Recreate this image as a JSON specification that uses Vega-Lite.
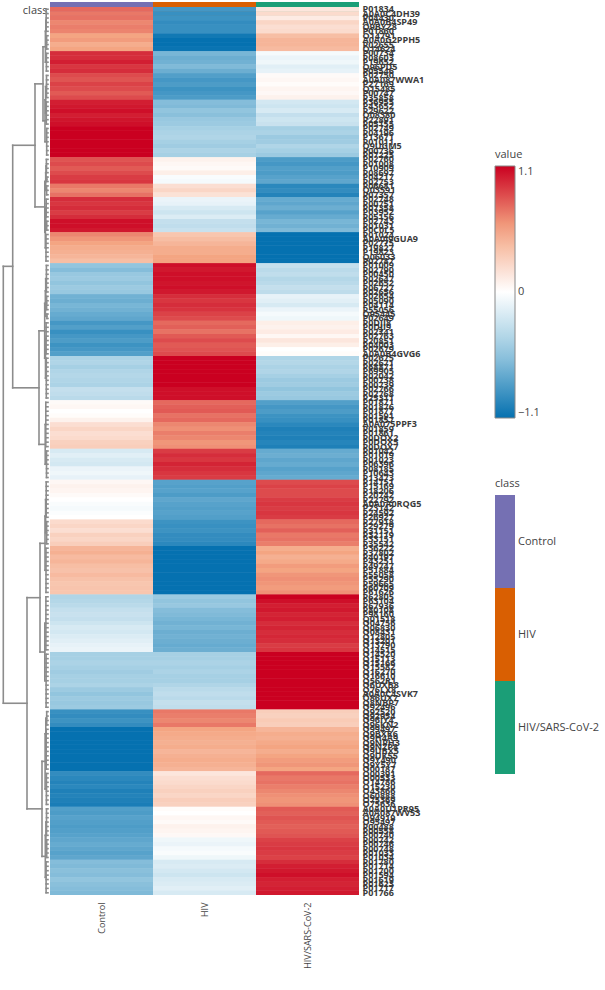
{
  "$schema": "https://vega.github.io/schema/vega-lite/v6.json",
  "padding": {"left": 0, "top": 2, "right": 0, "bottom": 0},
  "config": {
    "view": {"stroke": null},
    "font": "Open Sans"
  },
  "datasets": {
    "groups": [
      {"k": "c", "col": "Control", "track": "class"},
      {"k": "h", "col": "HIV", "track": "class"},
      {"k": "s", "col": "HIV/SARS-CoV-2", "track": "class"}
    ],
    "blocks": [
      {"b": 1, "hb": 1.8, "a": 0, "e": 5}, {"b": 2, "hb": 1.4, "a": 6, "e": 9},
      {"b": 3, "hb": 1.6, "a": 10, "e": 14}, {"b": 4, "hb": 1.5, "a": 15, "e": 20},
      {"b": 5, "hb": 1.7, "a": 21, "e": 26}, {"b": 6, "hb": 1.3, "a": 27, "e": 33},
      {"b": 7, "hb": 1.6, "a": 34, "e": 37}, {"b": 8, "hb": 1.2, "a": 38, "e": 39},
      {"b": 9, "hb": 1.4, "a": 40, "e": 42}, {"b": 10, "hb": 1.8, "a": 43, "e": 47},
      {"b": 11, "hb": 1.3, "a": 48, "e": 50}, {"b": 12, "hb": 2.0, "a": 51, "e": 57},
      {"b": 13, "hb": 1.6, "a": 58, "e": 64}, {"b": 14, "hb": 1.4, "a": 65, "e": 68},
      {"b": 15, "hb": 1.1, "a": 69, "e": 70}, {"b": 16, "hb": 1.9, "a": 71, "e": 78},
      {"b": 17, "hb": 1.7, "a": 79, "e": 88}, {"b": 18, "hb": 2.2, "a": 89, "e": 99},
      {"b": 19, "hb": 1.5, "a": 100, "e": 106}, {"b": 20, "hb": 1.8, "a": 107, "e": 115},
      {"b": 21, "hb": 1.4, "a": 116, "e": 121}, {"b": 22, "hb": 2.0, "a": 122, "e": 132},
      {"b": 23, "hb": 2.1, "a": 133, "e": 145}, {"b": 24, "hb": 1.9, "a": 146, "e": 158},
      {"b": 25, "hb": 1.3, "a": 159, "e": 162}, {"b": 26, "hb": 1.8, "a": 163, "e": 172},
      {"b": 27, "hb": 1.6, "a": 173, "e": 180}, {"b": 28, "hb": 1.5, "a": 181, "e": 187},
      {"b": 29, "hb": 1.3, "a": 188, "e": 192}, {"b": 30, "hb": 1.9, "a": 193, "e": 200}
    ],
    "links": [
      {"h": 2.2, "h2": 2.2, "r": 2.5, "r2": 7.5}, {"h": 1.8, "h2": 2.2, "r": 2.5, "r2": 2.5}, {"h": 1.4, "h2": 2.2, "r": 7.5, "r2": 7.5},
      {"h": 2.6, "h2": 2.6, "r": 5, "r2": 12}, {"h": 2.2, "h2": 2.6, "r": 5, "r2": 5}, {"h": 1.6, "h2": 2.6, "r": 12, "r2": 12},
      {"h": 2.4, "h2": 2.4, "r": 17.5, "r2": 23.5}, {"h": 1.5, "h2": 2.4, "r": 17.5, "r2": 17.5}, {"h": 1.7, "h2": 2.4, "r": 23.5, "r2": 23.5},
      {"h": 3, "h2": 3, "r": 20.5, "r2": 30}, {"h": 2.4, "h2": 3, "r": 20.5, "r2": 20.5}, {"h": 1.3, "h2": 3, "r": 30, "r2": 30},
      {"h": 5, "h2": 5, "r": 8.5, "r2": 25.25}, {"h": 2.6, "h2": 5, "r": 8.5, "r2": 8.5}, {"h": 3, "h2": 5, "r": 25.25, "r2": 25.25},
      {"h": 2, "h2": 2, "r": 35.5, "r2": 38.5}, {"h": 1.6, "h2": 2, "r": 35.5, "r2": 35.5}, {"h": 1.2, "h2": 2, "r": 38.5, "r2": 38.5},
      {"h": 2.3, "h2": 2.3, "r": 37, "r2": 41}, {"h": 2, "h2": 2.3, "r": 37, "r2": 37}, {"h": 1.4, "h2": 2.3, "r": 41, "r2": 41},
      {"h": 2.2, "h2": 2.2, "r": 45, "r2": 49}, {"h": 1.8, "h2": 2.2, "r": 45, "r2": 45}, {"h": 1.3, "h2": 2.2, "r": 49, "r2": 49},
      {"h": 2.7, "h2": 2.7, "r": 47, "r2": 54}, {"h": 2.2, "h2": 2.7, "r": 47, "r2": 47}, {"h": 2, "h2": 2.7, "r": 54, "r2": 54},
      {"h": 3.2, "h2": 3.2, "r": 39, "r2": 50.5}, {"h": 2.3, "h2": 3.2, "r": 39, "r2": 39}, {"h": 2.7, "h2": 3.2, "r": 50.5, "r2": 50.5},
      {"h": 13, "h2": 13, "r": 16.9, "r2": 44.75}, {"h": 5, "h2": 13, "r": 16.9, "r2": 16.9}, {"h": 3.2, "h2": 13, "r": 44.75, "r2": 44.75},
      {"h": 2.3, "h2": 2.3, "r": 61, "r2": 66.5}, {"h": 1.6, "h2": 2.3, "r": 61, "r2": 61}, {"h": 1.4, "h2": 2.3, "r": 66.5, "r2": 66.5},
      {"h": 2.6, "h2": 2.6, "r": 63.75, "r2": 69.5}, {"h": 2.3, "h2": 2.6, "r": 63.75, "r2": 63.75}, {"h": 1.1, "h2": 2.6, "r": 69.5, "r2": 69.5},
      {"h": 2.5, "h2": 2.5, "r": 74.5, "r2": 83.5}, {"h": 1.9, "h2": 2.5, "r": 74.5, "r2": 74.5}, {"h": 1.7, "h2": 2.5, "r": 83.5, "r2": 83.5},
      {"h": 3.3, "h2": 3.3, "r": 66.6, "r2": 79}, {"h": 2.6, "h2": 3.3, "r": 66.6, "r2": 66.6}, {"h": 2.5, "h2": 3.3, "r": 79, "r2": 79},
      {"h": 2.8, "h2": 2.8, "r": 94, "r2": 103}, {"h": 2.2, "h2": 2.8, "r": 94, "r2": 94}, {"h": 1.5, "h2": 2.8, "r": 103, "r2": 103},
      {"h": 9, "h2": 9, "r": 72.8, "r2": 98.5}, {"h": 3.3, "h2": 9, "r": 72.8, "r2": 72.8}, {"h": 2.8, "h2": 9, "r": 98.5, "r2": 98.5},
      {"h": 35.3, "h2": 35.3, "r": 30.8, "r2": 85.7}, {"h": 13, "h2": 35.3, "r": 30.8, "r2": 30.8}, {"h": 9, "h2": 35.3, "r": 85.7, "r2": 85.7},
      {"h": 2.4, "h2": 2.4, "r": 111, "r2": 118.5}, {"h": 1.8, "h2": 2.4, "r": 111, "r2": 111}, {"h": 1.4, "h2": 2.4, "r": 118.5, "r2": 118.5},
      {"h": 3, "h2": 3, "r": 114.75, "r2": 127}, {"h": 2.4, "h2": 3, "r": 114.75, "r2": 114.75}, {"h": 2, "h2": 3, "r": 127, "r2": 127},
      {"h": 3.2, "h2": 3.2, "r": 139, "r2": 152}, {"h": 2.1, "h2": 3.2, "r": 139, "r2": 139}, {"h": 1.9, "h2": 3.2, "r": 152, "r2": 152},
      {"h": 8, "h2": 8, "r": 120.9, "r2": 145.5}, {"h": 3, "h2": 8, "r": 120.9, "r2": 120.9}, {"h": 3.2, "h2": 8, "r": 145.5, "r2": 145.5},
      {"h": 2.2, "h2": 2.2, "r": 160.5, "r2": 167.5}, {"h": 1.3, "h2": 2.2, "r": 160.5, "r2": 160.5}, {"h": 1.8, "h2": 2.2, "r": 167.5, "r2": 167.5},
      {"h": 2.9, "h2": 2.9, "r": 164, "r2": 176.5}, {"h": 2.2, "h2": 2.9, "r": 164, "r2": 164}, {"h": 1.6, "h2": 2.9, "r": 176.5, "r2": 176.5},
      {"h": 2.1, "h2": 2.1, "r": 184, "r2": 190}, {"h": 1.5, "h2": 2.1, "r": 184, "r2": 184}, {"h": 1.3, "h2": 2.1, "r": 190, "r2": 190},
      {"h": 2.7, "h2": 2.7, "r": 187, "r2": 196.5}, {"h": 2.1, "h2": 2.7, "r": 187, "r2": 187}, {"h": 1.9, "h2": 2.7, "r": 196.5, "r2": 196.5},
      {"h": 6, "h2": 6, "r": 170.25, "r2": 191.75}, {"h": 2.9, "h2": 6, "r": 170.25, "r2": 170.25}, {"h": 2.7, "h2": 6, "r": 191.75, "r2": 191.75},
      {"h": 21, "h2": 21, "r": 133.2, "r2": 181}, {"h": 8, "h2": 21, "r": 133.2, "r2": 133.2}, {"h": 6, "h2": 21, "r": 181, "r2": 181},
      {"h": 44.7, "h2": 44.7, "r": 58.2, "r2": 157.1}, {"h": 35.3, "h2": 44.7, "r": 58.2, "r2": 58.2}, {"h": 21, "h2": 44.7, "r": 157.1, "r2": 157.1}
    ],
    "genes": [
      {"g": "P01834", "i": 0, "b": 1, "c": 0.75, "h": -0.85, "s": 0.15},
      {"g": "A0A0C4DH39", "i": 1, "b": 1, "c": 0.70, "h": -0.90, "s": 0.22},
      {"g": "P04430", "i": 2, "b": 1, "c": 0.72, "h": -0.88, "s": 0.12},
      {"g": "A0A0B4SP49", "i": 3, "b": 1, "c": 0.65, "h": -0.92, "s": 0.25},
      {"g": "Q9BYZ8", "i": 4, "b": 1, "c": 0.68, "h": -0.90, "s": 0.20},
      {"g": "P01860", "i": 5, "b": 1, "c": 0.66, "h": -0.90, "s": 0.22},
      {"g": "O14791", "i": 6, "b": 2, "c": 0.55, "h": -1.05, "s": 0.40},
      {"g": "A0A0G2PPH5", "i": 7, "b": 2, "c": 0.58, "h": -1.10, "s": 0.45},
      {"g": "P02655", "i": 8, "b": 2, "c": 0.50, "h": -1.10, "s": 0.45},
      {"g": "Q14624", "i": 9, "b": 2, "c": 0.55, "h": -1.08, "s": 0.42},
      {"g": "P00734", "i": 10, "b": 3, "c": 0.95, "h": -0.65, "s": -0.05},
      {"g": "P08603", "i": 11, "b": 3, "c": 0.95, "h": -0.70, "s": -0.10},
      {"g": "P19652", "i": 12, "b": 3, "c": 1.00, "h": -0.68, "s": -0.08},
      {"g": "Q96PD5", "i": 13, "b": 3, "c": 0.92, "h": -0.62, "s": -0.15},
      {"g": "P05546", "i": 14, "b": 3, "c": 0.95, "h": -0.70, "s": -0.12},
      {"g": "P02750", "i": 15, "b": 4, "c": 0.85, "h": -0.80, "s": 0.03},
      {"g": "A0A087WWA1", "i": 16, "b": 4, "c": 0.82, "h": -0.85, "s": 0.05},
      {"g": "P27169", "i": 17, "b": 4, "c": 0.88, "h": -0.82, "s": 0.02},
      {"g": "Q15485", "i": 18, "b": 4, "c": 0.85, "h": -0.88, "s": 0.06},
      {"g": "P00747", "i": 19, "b": 4, "c": 0.80, "h": -0.85, "s": 0.04},
      {"g": "P35858", "i": 20, "b": 4, "c": 0.85, "h": -0.82, "s": 0.08},
      {"g": "P36955", "i": 21, "b": 5, "c": 1.00, "h": -0.60, "s": -0.22},
      {"g": "P43652", "i": 22, "b": 5, "c": 1.02, "h": -0.62, "s": -0.25},
      {"g": "P29622", "i": 23, "b": 5, "c": 1.05, "h": -0.55, "s": -0.20},
      {"g": "Q08380", "i": 24, "b": 5, "c": 1.00, "h": -0.58, "s": -0.30},
      {"g": "P22891", "i": 25, "b": 5, "c": 1.03, "h": -0.52, "s": -0.25},
      {"g": "P05155", "i": 26, "b": 5, "c": 1.05, "h": -0.50, "s": -0.28},
      {"g": "P02749", "i": 27, "b": 6, "c": 1.10, "h": -0.45, "s": -0.45},
      {"g": "P04196", "i": 28, "b": 6, "c": 1.10, "h": -0.42, "s": -0.42},
      {"g": "P13671", "i": 29, "b": 6, "c": 1.10, "h": -0.40, "s": -0.50},
      {"g": "P01011", "i": 30, "b": 6, "c": 1.10, "h": -0.45, "s": -0.48},
      {"g": "Q9UGM5", "i": 31, "b": 6, "c": 1.10, "h": -0.48, "s": -0.40},
      {"g": "P00736", "i": 32, "b": 6, "c": 1.10, "h": -0.42, "s": -0.45},
      {"g": "P07225", "i": 33, "b": 6, "c": 1.10, "h": -0.45, "s": -0.50},
      {"g": "P02760", "i": 34, "b": 7, "c": 0.82, "h": 0.08, "s": -0.82},
      {"g": "P01008", "i": 35, "b": 7, "c": 0.85, "h": 0.05, "s": -0.85},
      {"g": "P10909", "i": 36, "b": 7, "c": 0.80, "h": 0.03, "s": -0.80},
      {"g": "P08697", "i": 37, "b": 7, "c": 0.85, "h": 0.10, "s": -0.82},
      {"g": "P04217", "i": 38, "b": 8, "c": 0.90, "h": -0.03, "s": -0.78},
      {"g": "P02753", "i": 39, "b": 8, "c": 0.92, "h": -0.05, "s": -0.75},
      {"g": "P06681", "i": 40, "b": 9, "c": 0.70, "h": 0.20, "s": -0.95},
      {"g": "Q03591", "i": 41, "b": 9, "c": 0.65, "h": 0.25, "s": -0.92},
      {"g": "P07357", "i": 42, "b": 9, "c": 0.72, "h": 0.18, "s": -0.98},
      {"g": "P02748", "i": 43, "b": 10, "c": 0.95, "h": -0.10, "s": -0.72},
      {"g": "P00751", "i": 44, "b": 10, "c": 0.92, "h": -0.12, "s": -0.75},
      {"g": "P07358", "i": 45, "b": 10, "c": 0.95, "h": -0.20, "s": -0.70},
      {"g": "P03952", "i": 46, "b": 10, "c": 0.90, "h": -0.25, "s": -0.78},
      {"g": "P05156", "i": 47, "b": 10, "c": 0.95, "h": -0.18, "s": -0.72},
      {"g": "P02743", "i": 48, "b": 11, "c": 1.05, "h": -0.30, "s": -0.65},
      {"g": "P01031", "i": 49, "b": 11, "c": 1.05, "h": -0.32, "s": -0.68},
      {"g": "P0C0L5", "i": 50, "b": 11, "c": 1.02, "h": -0.28, "s": -0.62},
      {"g": "P01024", "i": 51, "b": 12, "c": 0.65, "h": 0.35, "s": -1.10},
      {"g": "A0A0J9GUA9", "i": 52, "b": 12, "c": 0.60, "h": 0.40, "s": -1.10},
      {"g": "P02775", "i": 53, "b": 12, "c": 0.55, "h": 0.45, "s": -1.10},
      {"g": "P19827", "i": 54, "b": 12, "c": 0.50, "h": 0.50, "s": -1.10},
      {"g": "P19823", "i": 55, "b": 12, "c": 0.48, "h": 0.50, "s": -1.10},
      {"g": "Q06033", "i": 56, "b": 12, "c": 0.45, "h": 0.55, "s": -1.10},
      {"g": "P02787", "i": 57, "b": 12, "c": 0.40, "h": 0.55, "s": -1.10},
      {"g": "P01009", "i": 58, "b": 13, "c": -0.55, "h": 1.05, "s": -0.30},
      {"g": "P02790", "i": 59, "b": 13, "c": -0.60, "h": 1.02, "s": -0.35},
      {"g": "P00450", "i": 60, "b": 13, "c": -0.52, "h": 1.05, "s": -0.32},
      {"g": "P02647", "i": 61, "b": 13, "c": -0.50, "h": 1.05, "s": -0.38},
      {"g": "P02652", "i": 62, "b": 13, "c": -0.55, "h": 1.03, "s": -0.35},
      {"g": "P06727", "i": 63, "b": 13, "c": -0.50, "h": 1.05, "s": -0.30},
      {"g": "P02656", "i": 64, "b": 13, "c": -0.52, "h": 1.02, "s": -0.33},
      {"g": "P02654", "i": 65, "b": 14, "c": -0.68, "h": 0.95, "s": -0.12},
      {"g": "P05090", "i": 66, "b": 14, "c": -0.70, "h": 0.92, "s": -0.15},
      {"g": "P04114", "i": 67, "b": 14, "c": -0.65, "h": 0.95, "s": -0.20},
      {"g": "P55056", "i": 68, "b": 14, "c": -0.68, "h": 0.93, "s": -0.10},
      {"g": "O95445", "i": 69, "b": 15, "c": -0.72, "h": 0.88, "s": -0.05},
      {"g": "P02649", "i": 70, "b": 15, "c": -0.75, "h": 0.85, "s": -0.08},
      {"g": "P0DJI8", "i": 71, "b": 16, "c": -0.85, "h": 0.75, "s": 0.10},
      {"g": "P0DJI9", "i": 72, "b": 16, "c": -0.80, "h": 0.78, "s": 0.08},
      {"g": "P02741", "i": 73, "b": 16, "c": -0.90, "h": 0.72, "s": 0.12},
      {"g": "P02763", "i": 74, "b": 16, "c": -0.85, "h": 0.80, "s": 0.05},
      {"g": "P20851", "i": 75, "b": 16, "c": -0.82, "h": 0.85, "s": 0.15},
      {"g": "P04003", "i": 76, "b": 16, "c": -0.88, "h": 0.80, "s": 0.10},
      {"g": "P02679", "i": 77, "b": 16, "c": -0.85, "h": 0.82, "s": 0.00},
      {"g": "A0A0B4GVG6", "i": 78, "b": 16, "c": -0.80, "h": 0.85, "s": 0.02},
      {"g": "P02675", "i": 79, "b": 17, "c": -0.42, "h": 1.10, "s": -0.40},
      {"g": "P02671", "i": 80, "b": 17, "c": -0.40, "h": 1.10, "s": -0.38},
      {"g": "P68871", "i": 81, "b": 17, "c": -0.45, "h": 1.10, "s": -0.42},
      {"g": "P69905", "i": 82, "b": 17, "c": -0.40, "h": 1.10, "s": -0.40},
      {"g": "P02042", "i": 83, "b": 17, "c": -0.38, "h": 1.10, "s": -0.45},
      {"g": "P00738", "i": 84, "b": 17, "c": -0.40, "h": 1.10, "s": -0.50},
      {"g": "P00739", "i": 85, "b": 17, "c": -0.42, "h": 1.10, "s": -0.48},
      {"g": "P02766", "i": 86, "b": 17, "c": -0.30, "h": 1.05, "s": -0.55},
      {"g": "P02768", "i": 87, "b": 17, "c": -0.32, "h": 1.05, "s": -0.50},
      {"g": "P25311", "i": 88, "b": 17, "c": -0.35, "h": 1.05, "s": -0.52},
      {"g": "P01871", "i": 89, "b": 18, "c": 0.03, "h": 0.75, "s": -0.80},
      {"g": "P01876", "i": 90, "b": 18, "c": 0.05, "h": 0.78, "s": -0.85},
      {"g": "P01877", "i": 91, "b": 18, "c": 0.00, "h": 0.80, "s": -0.82},
      {"g": "P01591", "i": 92, "b": 18, "c": 0.02, "h": 0.72, "s": -0.88},
      {"g": "P01857", "i": 93, "b": 18, "c": 0.08, "h": 0.75, "s": -0.90},
      {"g": "A0A075PPF3", "i": 94, "b": 18, "c": 0.20, "h": 0.65, "s": -0.95},
      {"g": "P01859", "i": 95, "b": 18, "c": 0.25, "h": 0.62, "s": -1.00},
      {"g": "P01861", "i": 96, "b": 18, "c": 0.20, "h": 0.68, "s": -0.98},
      {"g": "P0DOX2", "i": 97, "b": 18, "c": 0.22, "h": 0.65, "s": -1.00},
      {"g": "P0DOX5", "i": 98, "b": 18, "c": 0.28, "h": 0.60, "s": -0.97},
      {"g": "P0DOX7", "i": 99, "b": 18, "c": 0.30, "h": 0.62, "s": -1.00},
      {"g": "P01042", "i": 100, "b": 19, "c": -0.20, "h": 0.90, "s": -0.72},
      {"g": "P01019", "i": 101, "b": 19, "c": -0.15, "h": 0.95, "s": -0.70},
      {"g": "P01023", "i": 102, "b": 19, "c": -0.20, "h": 0.92, "s": -0.75},
      {"g": "P06396", "i": 103, "b": 19, "c": -0.22, "h": 0.98, "s": -0.72},
      {"g": "P08185", "i": 104, "b": 19, "c": -0.10, "h": 0.95, "s": -0.78},
      {"g": "P10643", "i": 105, "b": 19, "c": -0.08, "h": 0.92, "s": -0.75},
      {"g": "P13473", "i": 106, "b": 19, "c": -0.12, "h": 0.90, "s": -0.72},
      {"g": "P14151", "i": 107, "b": 20, "c": 0.05, "h": -0.78, "s": 0.85},
      {"g": "P15169", "i": 108, "b": 20, "c": 0.08, "h": -0.80, "s": 0.88},
      {"g": "P18206", "i": 109, "b": 20, "c": 0.06, "h": -0.78, "s": 0.85},
      {"g": "P20742", "i": 110, "b": 20, "c": 0.03, "h": -0.82, "s": 0.85},
      {"g": "P22792", "i": 111, "b": 20, "c": 0.00, "h": -0.75, "s": 0.90},
      {"g": "A0A0A0RQG5", "i": 112, "b": 20, "c": -0.03, "h": -0.78, "s": 0.92},
      {"g": "P23142", "i": 113, "b": 20, "c": -0.05, "h": -0.80, "s": 0.90},
      {"g": "P24592", "i": 114, "b": 20, "c": -0.02, "h": -0.78, "s": 0.92},
      {"g": "P26927", "i": 115, "b": 20, "c": 0.00, "h": -0.80, "s": 0.90},
      {"g": "P27918", "i": 116, "b": 21, "c": 0.22, "h": -0.88, "s": 0.75},
      {"g": "P29279", "i": 117, "b": 21, "c": 0.25, "h": -0.90, "s": 0.72},
      {"g": "P31151", "i": 118, "b": 21, "c": 0.20, "h": -0.88, "s": 0.78},
      {"g": "P32119", "i": 119, "b": 21, "c": 0.28, "h": -0.92, "s": 0.70},
      {"g": "P33151", "i": 120, "b": 21, "c": 0.25, "h": -0.92, "s": 0.72},
      {"g": "P35542", "i": 121, "b": 21, "c": 0.30, "h": -0.95, "s": 0.68},
      {"g": "P36222", "i": 122, "b": 22, "c": 0.45, "h": -1.10, "s": 0.50},
      {"g": "P37802", "i": 123, "b": 22, "c": 0.48, "h": -1.10, "s": 0.55},
      {"g": "P40197", "i": 124, "b": 22, "c": 0.42, "h": -1.10, "s": 0.48},
      {"g": "P43251", "i": 125, "b": 22, "c": 0.45, "h": -1.10, "s": 0.52},
      {"g": "P49747", "i": 126, "b": 22, "c": 0.40, "h": -1.10, "s": 0.58},
      {"g": "P51884", "i": 127, "b": 22, "c": 0.38, "h": -1.10, "s": 0.55},
      {"g": "P55058", "i": 128, "b": 22, "c": 0.42, "h": -1.10, "s": 0.60},
      {"g": "P55290", "i": 129, "b": 22, "c": 0.38, "h": -1.10, "s": 0.62},
      {"g": "P59665", "i": 130, "b": 22, "c": 0.35, "h": -1.10, "s": 0.60},
      {"g": "P60709", "i": 131, "b": 22, "c": 0.36, "h": -1.10, "s": 0.58},
      {"g": "P61626", "i": 132, "b": 22, "c": 0.35, "h": -1.10, "s": 0.62},
      {"g": "P62805", "i": 133, "b": 23, "c": -0.40, "h": -0.50, "s": 1.10},
      {"g": "P63104", "i": 134, "b": 23, "c": -0.38, "h": -0.55, "s": 1.05},
      {"g": "P67936", "i": 135, "b": 23, "c": -0.35, "h": -0.52, "s": 1.00},
      {"g": "P80108", "i": 136, "b": 23, "c": -0.30, "h": -0.60, "s": 1.02},
      {"g": "P98160", "i": 137, "b": 23, "c": -0.28, "h": -0.62, "s": 0.98},
      {"g": "Q01518", "i": 138, "b": 23, "c": -0.30, "h": -0.65, "s": 1.00},
      {"g": "Q04756", "i": 139, "b": 23, "c": -0.25, "h": -0.68, "s": 0.95},
      {"g": "Q06830", "i": 140, "b": 23, "c": -0.20, "h": -0.65, "s": 0.98},
      {"g": "Q08431", "i": 141, "b": 23, "c": -0.22, "h": -0.70, "s": 0.95},
      {"g": "Q12805", "i": 142, "b": 23, "c": -0.18, "h": -0.68, "s": 0.97},
      {"g": "Q13201", "i": 143, "b": 23, "c": -0.15, "h": -0.70, "s": 0.95},
      {"g": "Q13790", "i": 144, "b": 23, "c": -0.12, "h": -0.72, "s": 0.90},
      {"g": "Q14515", "i": 145, "b": 23, "c": -0.10, "h": -0.70, "s": 0.92},
      {"g": "Q14520", "i": 146, "b": 24, "c": -0.45, "h": -0.45, "s": 1.10},
      {"g": "Q15113", "i": 147, "b": 24, "c": -0.45, "h": -0.45, "s": 1.10},
      {"g": "Q15166", "i": 148, "b": 24, "c": -0.42, "h": -0.42, "s": 1.10},
      {"g": "Q15582", "i": 149, "b": 24, "c": -0.45, "h": -0.45, "s": 1.10},
      {"g": "Q16270", "i": 150, "b": 24, "c": -0.48, "h": -0.42, "s": 1.10},
      {"g": "Q16610", "i": 151, "b": 24, "c": -0.45, "h": -0.45, "s": 1.10},
      {"g": "Q562R1", "i": 152, "b": 24, "c": -0.45, "h": -0.45, "s": 1.10},
      {"g": "Q6UXB8", "i": 153, "b": 24, "c": -0.42, "h": -0.40, "s": 1.10},
      {"g": "Q76LX8", "i": 154, "b": 24, "c": -0.50, "h": -0.35, "s": 1.10},
      {"g": "A0A0C4SVK7", "i": 155, "b": 24, "c": -0.55, "h": -0.32, "s": 1.10},
      {"g": "Q86UX7", "i": 156, "b": 24, "c": -0.50, "h": -0.35, "s": 1.10},
      {"g": "Q8NBP7", "i": 157, "b": 24, "c": -0.52, "h": -0.30, "s": 1.10},
      {"g": "Q92496", "i": 158, "b": 24, "c": -0.50, "h": -0.32, "s": 1.10},
      {"g": "Q92520", "i": 159, "b": 25, "c": -0.90, "h": 0.70, "s": 0.30},
      {"g": "Q92954", "i": 160, "b": 25, "c": -0.92, "h": 0.68, "s": 0.28},
      {"g": "Q96IY4", "i": 161, "b": 25, "c": -0.88, "h": 0.65, "s": 0.32},
      {"g": "Q96KN2", "i": 162, "b": 25, "c": -0.92, "h": 0.70, "s": 0.30},
      {"g": "Q99497", "i": 163, "b": 26, "c": -1.10, "h": 0.55, "s": 0.45},
      {"g": "Q9BXR6", "i": 164, "b": 26, "c": -1.10, "h": 0.52, "s": 0.50},
      {"g": "Q9H4A9", "i": 165, "b": 26, "c": -1.10, "h": 0.50, "s": 0.48},
      {"g": "Q9NPH3", "i": 166, "b": 26, "c": -1.10, "h": 0.48, "s": 0.52},
      {"g": "Q9NZP8", "i": 167, "b": 26, "c": -1.10, "h": 0.50, "s": 0.55},
      {"g": "Q9UBX5", "i": 168, "b": 26, "c": -1.10, "h": 0.45, "s": 0.50},
      {"g": "Q9UK55", "i": 169, "b": 26, "c": -1.10, "h": 0.48, "s": 0.55},
      {"g": "Q9Y490", "i": 170, "b": 26, "c": -1.10, "h": 0.50, "s": 0.58},
      {"g": "Q9Y5Y7", "i": 171, "b": 26, "c": -1.10, "h": 0.48, "s": 0.60},
      {"g": "O00187", "i": 172, "b": 26, "c": -1.10, "h": 0.45, "s": 0.55},
      {"g": "O00391", "i": 173, "b": 27, "c": -0.92, "h": 0.15, "s": 0.75},
      {"g": "O00533", "i": 174, "b": 27, "c": -0.95, "h": 0.20, "s": 0.70},
      {"g": "O14786", "i": 175, "b": 27, "c": -0.98, "h": 0.22, "s": 0.72},
      {"g": "O15230", "i": 176, "b": 27, "c": -0.95, "h": 0.25, "s": 0.68},
      {"g": "O43866", "i": 177, "b": 27, "c": -1.00, "h": 0.28, "s": 0.65},
      {"g": "O60888", "i": 178, "b": 27, "c": -0.98, "h": 0.25, "s": 0.62},
      {"g": "O75369", "i": 179, "b": 27, "c": -1.00, "h": 0.30, "s": 0.60},
      {"g": "O75636", "i": 180, "b": 27, "c": -1.02, "h": 0.28, "s": 0.62},
      {"g": "A0A0U1PR95", "i": 181, "b": 28, "c": -0.80, "h": 0.02, "s": 0.80},
      {"g": "A0A087WV53", "i": 182, "b": 28, "c": -0.82, "h": 0.00, "s": 0.78},
      {"g": "O94919", "i": 183, "b": 28, "c": -0.78, "h": 0.05, "s": 0.82},
      {"g": "O95497", "i": 184, "b": 28, "c": -0.80, "h": 0.03, "s": 0.80},
      {"g": "P00488", "i": 185, "b": 28, "c": -0.82, "h": 0.08, "s": 0.78},
      {"g": "P00558", "i": 186, "b": 28, "c": -0.80, "h": 0.06, "s": 0.80},
      {"g": "P00740", "i": 187, "b": 28, "c": -0.78, "h": 0.04, "s": 0.82},
      {"g": "P00742", "i": 188, "b": 29, "c": -0.75, "h": -0.08, "s": 0.88},
      {"g": "P00746", "i": 189, "b": 29, "c": -0.72, "h": -0.10, "s": 0.90},
      {"g": "P00748", "i": 190, "b": 29, "c": -0.75, "h": -0.05, "s": 0.92},
      {"g": "P01033", "i": 191, "b": 29, "c": -0.78, "h": -0.03, "s": 0.90},
      {"g": "P01034", "i": 192, "b": 29, "c": -0.75, "h": -0.08, "s": 0.88},
      {"g": "P01780", "i": 193, "b": 30, "c": -0.60, "h": -0.20, "s": 0.95},
      {"g": "P01714", "i": 194, "b": 30, "c": -0.62, "h": -0.18, "s": 1.00},
      {"g": "P01700", "i": 195, "b": 30, "c": -0.58, "h": -0.22, "s": 1.02},
      {"g": "P01594", "i": 196, "b": 30, "c": -0.60, "h": -0.25, "s": 1.05},
      {"g": "P01619", "i": 197, "b": 30, "c": -0.55, "h": -0.20, "s": 1.00},
      {"g": "P01623", "i": 198, "b": 30, "c": -0.58, "h": -0.18, "s": 0.98},
      {"g": "P01717", "i": 199, "b": 30, "c": -0.60, "h": -0.15, "s": 1.00},
      {"g": "P01766", "i": 200, "b": 30, "c": -0.62, "h": -0.20, "s": 1.02}
    ]
  },
  "spacing": 5,
  "bounds": "flush",
  "vconcat": [
    {
      "spacing": 2,
      "bounds": "flush",
      "hconcat": [
        {
          "width": 48,
          "height": 17,
          "data": {"name": "groups"},
          "mark": {"type": "rect", "opacity": 0},
          "encoding": {
            "x": {"field": "col", "type": "nominal", "axis": null},
            "y": {"field": "track", "type": "nominal", "axis": null}
          }
        },
        {
          "width": 309,
          "height": 17,
          "data": {"name": "groups"},
          "mark": {"type": "rect"},
          "encoding": {
            "x": {
              "field": "col", "type": "nominal",
              "sort": ["Control", "HIV", "HIV/SARS-CoV-2"],
              "scale": {"paddingInner": 0, "paddingOuter": 0},
              "axis": null
            },
            "y": {
              "field": "track", "type": "nominal",
              "scale": {"paddingInner": 0, "paddingOuter": 0},
              "axis": {"title": null, "ticks": false, "domain": false, "labelFontSize": 11, "labelColor": "#444444", "labelPadding": 3}
            },
            "fill": {
              "field": "col", "type": "nominal",
              "scale": {"domain": ["Control", "HIV", "HIV/SARS-CoV-2"], "range": ["#7570b3", "#d95f02", "#1b9e77"]},
              "legend": {
                "title": "class",
                "orient": "none",
                "legendX": 495,
                "legendY": 476,
                "titleFontSize": 11,
                "titleFontWeight": "normal",
                "titleColor": "#444444",
                "titlePadding": 6,
                "labelFontSize": 11,
                "labelColor": "#444444",
                "labelOffset": -33.5,
                "symbolOffset": -36.5,
                "symbolType": "M-0.215,-1H0.215V1H-0.215Z",
                "symbolSize": 8649,
                "symbolStrokeWidth": 0,
                "rowPadding": 0
              }
            }
          }
        }
      ]
    },
    {
      "spacing": 2,
      "bounds": "flush",
      "hconcat": [
        {
          "width": 48,
          "height": 888,
          "layer": [
            {
              "data": {"name": "genes"},
              "transform": [
                {"lookup": "b", "from": {"data": {"name": "blocks"}, "key": "b", "fields": ["hb"]}}
              ],
              "mark": {"type": "rule", "color": "#8c8c8c", "strokeWidth": 1.6, "strokeCap": "square"},
              "encoding": {
                "x": {"field": "hb", "type": "quantitative", "scale": {"domain": [0, 48], "reverse": true, "nice": false, "zero": false}, "axis": null},
                "x2": {"datum": 0},
                "y": {"field": "i", "type": "quantitative", "scale": {"domain": [-0.5, 200.5], "reverse": true, "nice": false, "zero": false}, "axis": null}
              }
            },
            {
              "data": {"name": "blocks"},
              "mark": {"type": "rule", "color": "#8c8c8c", "strokeWidth": 1.6, "strokeCap": "square"},
              "encoding": {
                "x": {"field": "hb", "type": "quantitative", "scale": {"domain": [0, 48], "reverse": true, "nice": false, "zero": false}, "axis": null},
                "y": {"field": "a", "type": "quantitative", "scale": {"domain": [-0.5, 200.5], "reverse": true, "nice": false, "zero": false}, "axis": null},
                "y2": {"field": "e"}
              }
            },
            {
              "data": {"name": "links"},
              "mark": {"type": "rule", "color": "#8c8c8c", "strokeWidth": 1.6, "strokeCap": "square"},
              "encoding": {
                "x": {"field": "h", "type": "quantitative", "scale": {"domain": [0, 48], "reverse": true, "nice": false, "zero": false}, "axis": null},
                "x2": {"field": "h2"},
                "y": {"field": "r", "type": "quantitative", "scale": {"domain": [-0.5, 200.5], "reverse": true, "nice": false, "zero": false}, "axis": null},
                "y2": {"field": "r2"}
              }
            }
          ]
        },
        {
          "width": 309,
          "height": 888,
          "data": {"name": "genes"},
          "transform": [
            {"fold": ["c", "h", "s"], "as": ["k", "v"]},
            {"lookup": "k", "from": {"data": {"name": "groups"}, "key": "k", "fields": ["col"]}}
          ],
          "encoding": {
            "x": {
              "field": "col", "type": "nominal",
              "sort": ["Control", "HIV", "HIV/SARS-CoV-2"],
              "scale": {"paddingInner": 0, "paddingOuter": 0},
              "axis": {"title": null, "labelAngle": -90, "ticks": false, "domain": false, "labelFontSize": 9, "labelColor": "#444444", "labelPadding": 7}
            },
            "y": {
              "field": "g", "type": "nominal", "sort": null,
              "scale": {"paddingInner": 0, "paddingOuter": 0},
              "axis": {"orient": "right", "title": null, "ticks": false, "domain": false, "labelFontSize": 9, "labelFontWeight": "bold", "labelColor": "#3a3a3a", "labelPadding": 3, "labelOverlap": false}
            },
            "color": {
              "field": "v", "type": "quantitative",
              "scale": {
                "domain": [-1.1, -0.55, 0, 0.55, 1.1],
                "range": ["#0571b0", "#92c5de", "#ffffff", "#f4a582", "#ca0020"],
                "interpolate": "rgb"
              },
              "legend": {
                "type": "gradient",
                "title": "value",
                "orient": "none",
                "legendX": 495,
                "legendY": 147,
                "direction": "vertical",
                "gradientLength": 252,
                "gradientThickness": 20,
                "gradientStrokeColor": "#888888",
                "gradientStrokeWidth": 1,
                "values": [-1.1, 0, 1.1],
                "format": ".1~f",
                "titleFontSize": 11,
                "titleFontWeight": "normal",
                "titleColor": "#444444",
                "titlePadding": 6,
                "labelFontSize": 11,
                "labelColor": "#444444",
                "labelOffset": 3
              }
            }
          },
          "layer": [
            {"mark": {"type": "rect"}},
            {"mark": {"type": "rect"}}
          ]
        }
      ]
    }
  ]
}
